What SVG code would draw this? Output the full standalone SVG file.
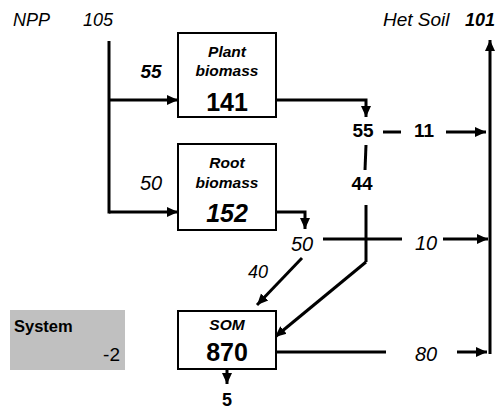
<svg xmlns="http://www.w3.org/2000/svg" width="502" height="419" viewBox="0 0 502 419">
<style>
text{font-family:"Liberation Sans",Arial,sans-serif;fill:#000}
.i{font-style:italic}
.b{font-weight:bold}
.box{fill:#fff;stroke:#000;stroke-width:2}
.ln{fill:none;stroke:#000;stroke-width:3}
.ttl{font-size:15.5px;font-weight:bold;font-style:italic;text-anchor:middle}
.big{font-size:25px;font-weight:bold;text-anchor:middle}
.m{text-anchor:middle}
</style>
<defs>
<marker id="ah" markerUnits="userSpaceOnUse" markerWidth="12" markerHeight="12" viewBox="0 0 12 12" refX="11" refY="6" orient="auto">
<path d="M0,1 L11,6 L0,11 Z" fill="#000"/>
</marker>
</defs>
<rect width="502" height="419" fill="#fff"/>
<g id="labels">
<text x="13" y="26" class="i" font-size="18">NPP</text>
<text x="83" y="26" class="i" font-size="18">105</text>
<text x="383" y="26" class="i" font-size="19">Het Soil</text>
<text x="465" y="26" class="i b" font-size="18">101</text>
<text x="151" y="78" class="i b m" font-size="19">55</text>
<text x="151" y="190" class="i m" font-size="20">50</text>
<text x="363" y="137" class="b m" font-size="19">55</text>
<text x="424" y="137" class="b m" font-size="19">11</text>
<text x="362" y="190" class="b m" font-size="19">44</text>
<text x="302" y="251" class="i m" font-size="20">50</text>
<text x="426" y="250" class="i m" font-size="20">10</text>
<text x="258" y="278" class="i m" font-size="18">40</text>
<text x="426" y="361" class="i m" font-size="20">80</text>
<text x="227" y="406" class="b m" font-size="18">5</text>
</g>
<g id="connectors">
<line class="ln" x1="109" y1="41" x2="109" y2="213.5"/>
<line class="ln" x1="109" y1="100" x2="178" y2="100" marker-end="url(#ah)"/>
<line class="ln" x1="109" y1="212" x2="178" y2="212" marker-end="url(#ah)"/>
<polyline class="ln" points="276,100 366,100 366,117" marker-end="url(#ah)"/>
<line class="ln" x1="383" y1="132" x2="401" y2="132"/>
<line class="ln" x1="446" y1="132" x2="486" y2="132" marker-end="url(#ah)"/>
<line class="ln" x1="490" y1="354" x2="490" y2="40" marker-end="url(#ah)"/>
<line class="ln" x1="366" y1="145" x2="365" y2="170"/>
<line class="ln" x1="366" y1="205" x2="366" y2="262"/>
<line class="ln" x1="323" y1="239" x2="402" y2="239"/>
<line class="ln" x1="443" y1="239" x2="488" y2="239" marker-end="url(#ah)"/>
<polyline class="ln" points="276,212 305,212 305,229" marker-end="url(#ah)"/>
<line class="ln" x1="302" y1="258" x2="257" y2="305" marker-end="url(#ah)"/>
<line class="ln" x1="366" y1="262" x2="275" y2="337" marker-end="url(#ah)"/>
<line class="ln" x1="276" y1="352" x2="386" y2="352"/>
<line class="ln" x1="457" y1="352" x2="487" y2="352" marker-end="url(#ah)"/>
<line class="ln" x1="227" y1="370" x2="227" y2="384" marker-end="url(#ah)"/>
</g>
<g id="plant">
<rect class="box" x="178" y="33" width="98" height="84"/>
<text x="227" y="57" class="ttl">Plant</text>
<text x="227" y="76" class="ttl">biomass</text>
<text x="227" y="111" class="big">141</text>
</g>
<g id="root">
<rect class="box" x="178" y="144" width="98" height="86"/>
<text x="227" y="168" class="ttl">Root</text>
<text x="227" y="188" class="ttl">biomass</text>
<text x="227" y="222" class="big i">152</text>
</g>
<g id="som">
<rect class="box" x="178" y="311" width="98" height="58"/>
<text x="227" y="330" class="ttl" font-size="15">SOM</text>
<text x="227" y="361" class="big">870</text>
</g>
<g id="system">
<rect x="10" y="310" width="115" height="60" fill="#c0c0c0"/>
<text x="14" y="332" class="b" font-size="16.5">System</text>
<text x="120" y="361" font-size="19" text-anchor="end">-2</text>
</g>
</svg>
